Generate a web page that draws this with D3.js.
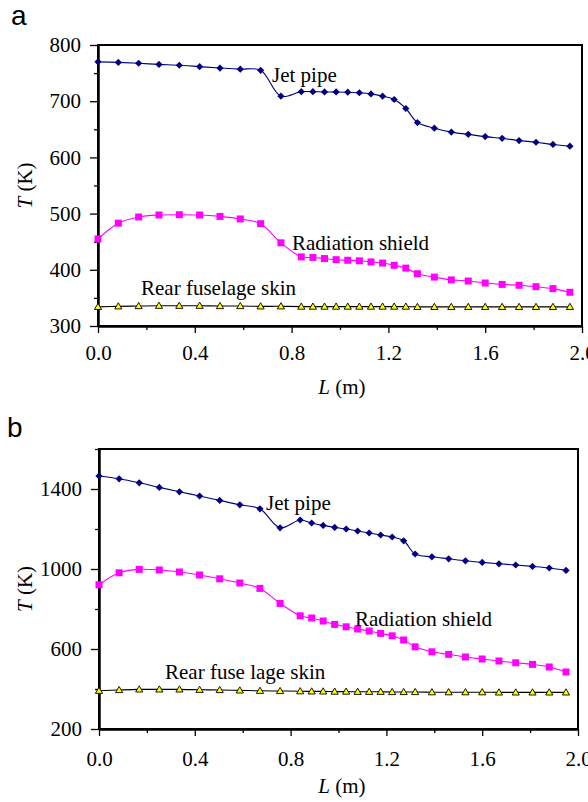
<!DOCTYPE html>
<html><head><meta charset="utf-8">
<script src="https://cdn.jsdelivr.net/npm/d3@7"></script>
<style>
html,body{margin:0;padding:0;background:#fff;}
svg{display:block;font-family:"Liberation Serif","Times New Roman",serif;}
</style></head>
<body>
<svg id="chart" width="588" height="802"></svg>
<script>
// ---- data ----
const L = [0, 0.084, 0.168, 0.252, 0.336, 0.42, 0.504, 0.588, 0.672, 0.756,
  0.84, 0.888, 0.936, 0.984, 1.032, 1.08, 1.128, 1.176, 1.224, 1.272, 1.32,
  1.39, 1.46, 1.53, 1.60, 1.67, 1.74, 1.81, 1.88, 1.95];

const jetA = [770, 769, 767.5, 765.5, 764, 761.5, 759, 757, 755, 709,
  717, 717, 716.5, 716.5, 716, 715, 713, 709, 703, 687, 662,
  652, 645, 641, 637, 634, 630, 627, 623, 620];
const shieldA = [455, 483, 494, 497.5, 498, 497.5, 495, 490.5, 482, 448,
  423, 422, 420, 418, 417, 416, 414, 412, 408, 403, 393,
  387, 382, 380, 376.5, 374, 372.5, 370, 366.5, 360];
const skinA = [334, 335, 335.5, 336, 336, 336, 335.5, 335.5, 335, 335,
  334.5, 334.5, 334.5, 334.5, 334.5, 334.5, 334.5, 334.5, 334.5, 334.5, 334,
  334, 334, 334, 334, 334, 334, 334, 334, 334];

const jetB = [1465, 1451, 1431, 1408, 1386, 1365, 1343, 1321, 1301, 1206,
  1245, 1230, 1218, 1208, 1200, 1190, 1180, 1170, 1160, 1141, 1075,
  1061, 1051, 1041, 1033, 1026, 1020, 1013, 1005, 993];
const shieldB = [921, 981, 998, 995, 985, 970, 951, 930, 903, 828,
  766, 755, 740, 723, 711, 700, 690, 678, 666, 645, 611,
  586, 573, 560, 550, 540, 531, 523, 510, 485];
const skinB = [391, 395, 398, 398, 398, 396, 395, 393, 391, 390,
  389, 388, 388, 387, 387, 386, 386, 386, 385, 385, 385,
  384, 384, 384, 384, 383, 383, 383, 383, 383];

const xMajor = [0, 0.4, 0.8, 1.2, 1.6, 2.0];
const xMinor = [0.2, 0.6, 1.0, 1.4, 1.8];
const yMajorA = [300, 400, 500, 600, 700, 800];
const yMinorA = [350, 450, 550, 650, 750];
const yMajorB = [200, 600, 1000, 1400];
const yMinorB = [400, 800, 1200, 1600];

const seriesNames = ["Jet pipe", "Radiation shield", "Rear fuselage skin"];
const seriesNamesB = ["Jet pipe", "Radiation shield", "Rear fuse lage skin"];

// ---- drawing ----
const SERIF = "Liberation Serif, Times New Roman, serif";
const svg = d3.select("#chart");

const colors = {jet: "#000080", shield: "#ff00ff", skin: "#000000"};

function drawPanel(cfg) {
  const g = svg.append("g").attr("font-family", SERIF);
  const x = d3.scaleLinear().domain([0, 2]).range([cfg.left, cfg.right]);
  const y = d3.scaleLinear().domain(cfg.yDomain).range([cfg.bottom, cfg.top]);

  // frame
  g.append("rect").attr("x", cfg.left).attr("y", cfg.top)
    .attr("width", cfg.right - cfg.left).attr("height", cfg.bottom - cfg.top)
    .attr("fill", "none").attr("stroke", "#000").attr("stroke-width", 2);

  // y axis
  const yAx = g.append("g").attr("transform", `translate(${cfg.left},0)`)
    .call(d3.axisLeft(y).tickValues(cfg.yMajor).tickSize(8).tickSizeOuter(0).tickPadding(9)
      .tickFormat(d3.format("d")));
  const yAxMin = g.append("g").attr("transform", `translate(${cfg.left},0)`)
    .call(d3.axisLeft(y).tickValues(cfg.yMinor).tickSize(4).tickSizeOuter(0).tickFormat(""));
  // x axis
  const xAx = g.append("g").attr("transform", `translate(0,${cfg.bottom})`)
    .call(d3.axisBottom(x).tickValues(xMajor).tickSize(7).tickSizeOuter(0).tickPadding(cfg.xPad)
      .tickFormat(d3.format(".1f")));
  const xAxMin = g.append("g").attr("transform", `translate(0,${cfg.bottom})`)
    .call(d3.axisBottom(x).tickValues(xMinor).tickSize(4).tickSizeOuter(0).tickFormat(""));
  [yAx, yAxMin, xAx, xAxMin].forEach(a => {
    a.attr("font-family", SERIF);
    a.select(".domain").attr("stroke-width", 2);
    a.selectAll(".tick line").attr("stroke-width", 1.3);
    a.selectAll("text").attr("font-family", SERIF).attr("font-size", 21).attr("fill", "#000");
  });

  const line = d3.line().x((d, i) => x(L[i])).y(d => y(d)).curve(d3.curveCatmullRom.alpha(0.5));

  function series(vals, color, marker) {
    g.append("path").attr("d", line(vals)).attr("fill", "none")
      .attr("stroke", color).attr("stroke-width", 1.1);
    const pts = g.append("g").selectAll("path").data(vals).join("path")
      .attr("transform", (d, i) => `translate(${x(L[i])},${y(d)})`);
    if (marker === "diamond") {
      pts.attr("d", "M0,-3.6L3.6,0L0,3.6L-3.6,0Z").attr("fill", color);
    } else if (marker === "square") {
      pts.attr("d", "M-3.5,-3.5H3.5V3.5H-3.5Z").attr("fill", color);
    } else {
      pts.attr("d", "M0,-3.6L3.6,2.6L-3.6,2.6Z").attr("fill", "#ffff00")
        .attr("stroke", "#000").attr("stroke-width", 0.9);
    }
  }
  series(cfg.skin, colors.skin, "triangle");
  series(cfg.shield, colors.shield, "square");
  series(cfg.jet, colors.jet, "diamond");

  // annotations
  cfg.notes.forEach(n => {
    g.append("text").attr("x", n.x).attr("y", n.y).attr("font-size", 21)
      .attr("font-family", SERIF).attr("fill", "#000").text(n.t);
  });

  // axis titles
  const xt = g.append("text").attr("x", cfg.xTitleX).attr("y", cfg.xTitleY)
    .attr("text-anchor", "middle").attr("font-size", 21).attr("font-family", SERIF);
  xt.append("tspan").attr("font-style", "italic").text("L");
  xt.append("tspan").text(" (m)");
  const yt = g.append("text")
    .attr("transform", `translate(${cfg.yTitleX},${(cfg.top + cfg.bottom) / 2}) rotate(-90)`)
    .attr("text-anchor", "middle").attr("font-size", 21).attr("font-family", SERIF);
  yt.append("tspan").attr("font-style", "italic").text("T");
  yt.append("tspan").text(" (K)");

  // panel label
  svg.append("text").attr("x", cfg.panelX).attr("y", cfg.panelY)
    .attr("font-family", "Liberation Sans, Arial, sans-serif").attr("font-size", 28)
    .text(cfg.panel);
}

drawPanel({
  panel: "a", panelX: 11, panelY: 25,
  left: 98, right: 582, top: 45, bottom: 326,
  yDomain: [300, 800], yMajor: yMajorA, yMinor: yMinorA, xPad: 12,
  jet: jetA, shield: shieldA, skin: skinA,
  notes: [{t: seriesNames[0], x: 272, y: 82}, {t: seriesNames[1], x: 292, y: 250},
          {t: seriesNames[2], x: 141, y: 295}],
  xTitleX: 342, xTitleY: 394, yTitleX: 32
});

drawPanel({
  panel: "b", panelX: 7, panelY: 437,
  left: 99, right: 578, top: 449, bottom: 729,
  yDomain: [200, 1600], yMajor: yMajorB, yMinor: yMinorB, xPad: 15,
  jet: jetB, shield: shieldB, skin: skinB,
  notes: [{t: seriesNamesB[0], x: 266, y: 510}, {t: seriesNamesB[1], x: 355, y: 626},
          {t: seriesNamesB[2], x: 165, y: 679}],
  xTitleX: 342, xTitleY: 793, yTitleX: 32
});
</script>
</body></html>
